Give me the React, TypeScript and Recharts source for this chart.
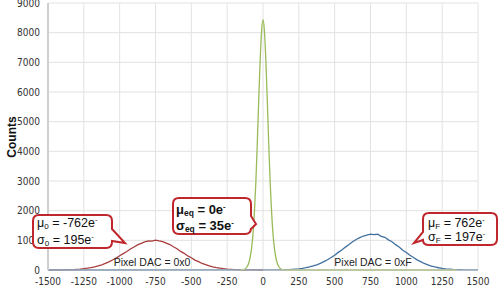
import { LineChart, Line, XAxis, YAxis, CartesianGrid } from "recharts";

// histogram bins are 25 e- wide
const binWidth = 25;

// Pixel DAC = 0x0, bins from -1500
const redStart = -1500;
const redCounts = [
  1, 1, 2, 3, 5, 7, 10, 15, 22, 31, 44, 60, 80, 106, 138, 176, 222, 275, 338, 402,
  478, 552, 622, 706, 774, 848, 898, 946, 978, 972, 1008, 978, 958, 908, 858, 784,
  716, 626, 562, 474, 412, 334, 282, 220, 180, 138, 108, 82, 60, 44, 32, 23, 16, 11,
  7, 5, 3, 2, 1, 0, 0,
];

// Pixel DAC = 0xF, bins from 0 (empty below)
const blueStart = 0;
const blueCounts = [
  1, 1, 2, 3, 4, 6, 9, 14, 21, 30, 41, 57, 77, 104, 136, 176, 224, 280, 345, 420,
  500, 594, 676, 772, 858, 954, 1028, 1090, 1146, 1176, 1206, 1190, 1204, 1136, 1104,
  1016, 954, 854, 774, 668, 588, 496, 420, 342, 282, 220, 176, 134, 102, 76, 56, 40,
  29, 20, 14, 9, 6, 4, 3, 2, 1,
];

// equalized, narrow peak around 0
const greenBins = [
  -160, -150, -140, -130, -120, -110, -100, -90, -80, -70, -60, -50, -40, -30, -20, -10,
  0, 10, 20, 30, 40, 50, 60, 70, 80, 90, 100, 110, 120, 130, 140, 150, 160, 1350,
];
const greenCounts = [
  0, 2, 8, 22, 55, 120, 230, 420, 720, 1200, 1950, 2950, 4250, 5700, 7050, 8050,
  8440, 8050, 7050, 5700, 4250, 2950, 1950, 1200, 720, 420, 230, 120, 55, 22, 8, 2, 0, 0,
];

const xTicks = [-1500, -1250, -1000, -750, -500, -250, 0, 250, 500, 750, 1000, 1250, 1500];
const yTicks = [0, 1000, 2000, 3000, 4000, 5000, 6000, 7000, 8000, 9000];

const redData = redCounts.map((y, i) => ({ x: redStart + i * binWidth, y }));
const blueData = [{ x: -1500, y: 0 }].concat(
  blueCounts.map((y, i) => ({ x: blueStart + i * binWidth, y }))
);
const greenData = greenBins.map((x, i) => ({ x, y: greenCounts[i] }));

const tickStyle = {
  fontSize: 10,
  fill: "#333",
  fontFamily: "'Liberation Sans Narrow', 'DejaVu Sans Condensed', sans-serif",
};

const calloutStroke = "#c0272d";
const calloutFont = "'Liberation Sans', Arial, sans-serif";

// one line of a callout: symbol, subscript, " = value e", superscript minus
const CalloutLine = ({ x, y, sym, sub, value, size, bold }) => (
  <text
    x={x}
    y={y}
    fontSize={size}
    fontWeight={bold ? "bold" : "normal"}
    fontFamily={calloutFont}
    fill="#111"
  >
    {sym}
    <tspan dy={2} fontSize={size * 0.65}>{sub}</tspan>
    <tspan dy={-2}>{` = ${value}e`}</tspan>
    <tspan dy={-5} fontSize={size * 0.6}>-</tspan>
  </text>
);

const Callouts = () => (
  <svg
    width={500}
    height={300}
    style={{ position: "absolute", left: 0, top: 0, pointerEvents: "none" }}
  >
    <text
      x={12}
      y={137}
      transform="rotate(-90 12 137)"
      textAnchor="middle"
      dominantBaseline="central"
      fontSize={12}
      fontWeight="bold"
      fontFamily={calloutFont}
      fill="#111"
    >
      Counts
    </text>

    <text x={152} y={266} textAnchor="middle" fontSize={10.5} fontFamily={calloutFont} fill="#222">
      Pixel DAC = 0x0
    </text>
    <text x={373} y={266} textAnchor="middle" fontSize={10.5} fontFamily={calloutFont} fill="#222">
      Pixel DAC = 0xF
    </text>

    {/* mu0 / sigma0 */}
    <path
      d="M39,215 H106 Q112,215 112,221 V229 L125,243 L112,241 V242 Q112,248 106,248 H39 Q33,248 33,242 V221 Q33,215 39,215 Z"
      fill="#fff"
      stroke={calloutStroke}
      strokeWidth={2}
    />
    <CalloutLine x={37} y={227} sym="μ" sub="0" value="-762" size={12.5} />
    <CalloutLine x={37} y={244} sym="σ" sub="0" value="195" size={12.5} />

    {/* mu_eq / sigma_eq */}
    <path
      d="M179,198 H245 Q251,198 251,204 V216 L256,224 L251,229 V228 Q251,234 245,234 H179 Q173,234 173,228 V204 Q173,198 179,198 Z"
      fill="#fff"
      stroke={calloutStroke}
      strokeWidth={2}
    />
    <CalloutLine x={176} y={214} sym="μ" sub="eq" value="0" size={13} bold />
    <CalloutLine x={176} y={230} sym="σ" sub="eq" value="35" size={13} bold />

    {/* muF / sigmaF */}
    <path
      d="M429,213 H491 Q497,213 497,219 V239 Q497,245 491,245 H429 Q423,245 423,240 L414,243 L423,232 V219 Q423,213 429,213 Z"
      fill="#fff"
      stroke={calloutStroke}
      strokeWidth={2}
    />
    <CalloutLine x={428} y={227} sym="μ" sub="F" value="762" size={12.5} />
    <CalloutLine x={428} y={241} sym="σ" sub="F" value="197" size={12.5} />
  </svg>
);

export default function App() {
  return (
    <div style={{ position: "absolute", left: 0, top: 0, width: 500, height: 300, background: "#fff" }}>
      <LineChart width={500} height={300} margin={{ top: 3, right: 22, bottom: 10, left: 0 }}>
        <CartesianGrid stroke="#e2e2e2" strokeWidth={1} />
        <XAxis
          dataKey="x"
          type="number"
          domain={[-1500, 1500]}
          ticks={xTicks}
          allowDuplicatedCategory={false}
          tick={tickStyle}
          tickLine={false}
          axisLine={{ stroke: "#c8c8c8" }}
          height={20}
          interval={0}
        />
        <YAxis
          type="number"
          domain={[0, 9000]}
          ticks={yTicks}
          tick={tickStyle}
          tickLine={false}
          axisLine={{ stroke: "#cfcfcf", strokeWidth: 2 }}
          width={48}
          interval={0}
        />
        <Line
          data={redData}
          dataKey="y"
          type="linear"
          stroke="#a83c3c"
          strokeWidth={1.3}
          dot={false}
          isAnimationActive={false}
        />
        <Line
          data={blueData}
          dataKey="y"
          type="linear"
          stroke="#41709f"
          strokeWidth={1.3}
          dot={false}
          isAnimationActive={false}
        />
        <Line
          data={greenData}
          dataKey="y"
          type="monotone"
          stroke="#9bbb59"
          strokeWidth={1.3}
          dot={false}
          isAnimationActive={false}
        />
      </LineChart>
      <Callouts />
    </div>
  );
}
